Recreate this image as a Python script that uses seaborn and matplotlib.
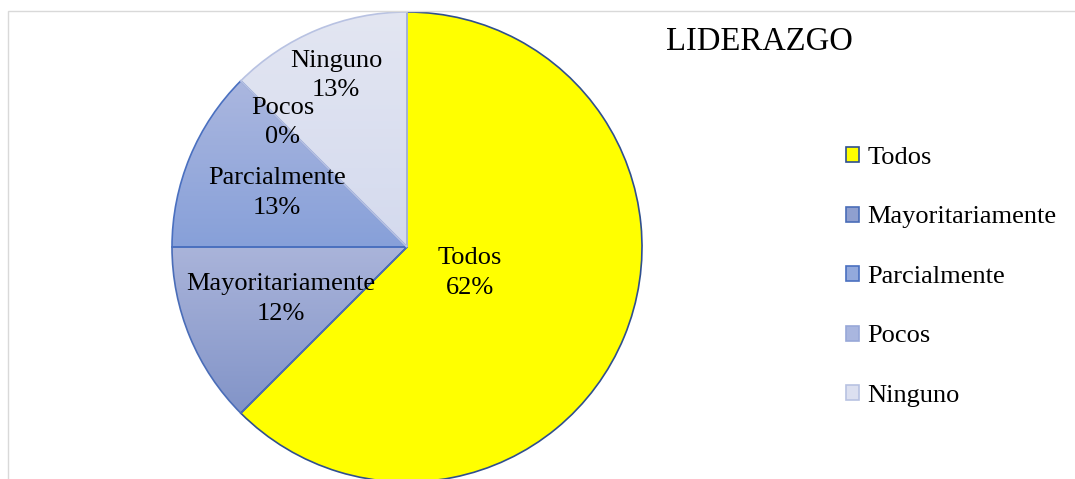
import matplotlib
matplotlib.use("Agg")
import matplotlib.pyplot as plt
import seaborn as sns
import numpy as np
from matplotlib.patches import Patch, Rectangle

# ---- data ----
categories = ["Todos", "Mayoritariamente", "Parcialmente", "Pocos", "Ninguno"]
values = [62.5, 12.5, 12.5, 0.0, 12.5]
pct_labels = ["62%", "12%", "13%", "0%", "13%"]
title = "LIDERAZGO"

# ---- style ----
grad_top = ["#FFFF00", "#AAB4DA", "#ABB7DF", "#B0BCE2", "#E3E6F2"]
grad_bot = ["#FFFF00", "#8294C8", "#87A0D9", "#98ACDC", "#D4DAEE"]
legend_face = ["#FFFF00", "#8F9FCF", "#93A9DC", "#A9B6DF", "#DCE0F0"]
edge_cols = ["#2F4F8F", "#4A6DB8", "#4A70C0", "#98A8D8", "#B8C2E2"]
label_r = [0.29, 0.58, 0.60, 0.75, 0.79]

sns.set_theme(style="white")
plt.rcParams["font.family"] = ["Liberation Serif", "DejaVu Serif"]
plt.rcParams["text.color"] = "black"
plt.rcParams["legend.labelcolor"] = "black"

W, H = 1075, 479
fig = plt.figure(figsize=(W / 100, H / 100), dpi=100)
fig.patch.set_facecolor("white")

# chart frame
fig.patches.append(Rectangle((8 / W, -0.1), 1.2, (H - 11) / H + 0.1,
                             transform=fig.transFigure, fill=False,
                             edgecolor="#D9D9D9", linewidth=1.0))

cx, cy, R = 407, H - 247, 235
ax = fig.add_axes([(cx - R) / W, (cy - R) / H, 2 * R / W, 2 * R / H])
ax.set_axis_off()

wedges, _ = ax.pie(values, startangle=90, counterclock=False, radius=1.0,
                   wedgeprops=dict(linewidth=1.2))
for i, w in enumerate(wedges):
    w.set_edgecolor(edge_cols[i])
    w.set_zorder(2)
    if grad_top[i] != grad_bot[i] and values[i] > 0:
        w.set_facecolor("none")
        ext = w.get_path().get_extents()
        cmap = sns.blend_palette([grad_bot[i], grad_top[i]], as_cmap=True)
        grad = np.linspace(0, 1, 256).reshape(-1, 1)
        im = ax.imshow(grad, cmap=cmap, origin="lower", aspect="auto",
                       extent=[ext.x0, ext.x1, ext.y0, ext.y1], zorder=1)
        im.set_clip_path(w)
    else:
        w.set_facecolor(grad_top[i])

# data labels
for i, w in enumerate(wedges):
    ang = np.deg2rad((w.theta1 + w.theta2) / 2)
    x, y = label_r[i] * np.cos(ang), label_r[i] * np.sin(ang)
    ax.text(x, y, f"{categories[i]}\n{pct_labels[i]}", ha="center", va="center",
            fontsize=19, color="black", linespacing=1.45, zorder=5)

ax.set_xlim(-1, 1)
ax.set_ylim(-1, 1)
ax.set_aspect("equal")

# title
fig.text(666 / W, 1 - 42 / H, title, ha="left", va="center", fontsize=23.5,
         color="black")

# legend
handles = [Patch(facecolor=legend_face[i], edgecolor=edge_cols[i], linewidth=1.2)
           for i in range(len(categories))]
fig.legend(handles, categories, loc="upper left",
           bbox_to_anchor=(846 / W, 1 - 147 / H), frameon=False,
           fontsize=19, handlelength=0.5, handleheight=0.5,
           handletextpad=0.3, labelspacing=1.42, borderpad=0, borderaxespad=0,
           labelcolor="black")

fig.savefig("out.png", dpi=100, facecolor="white")
